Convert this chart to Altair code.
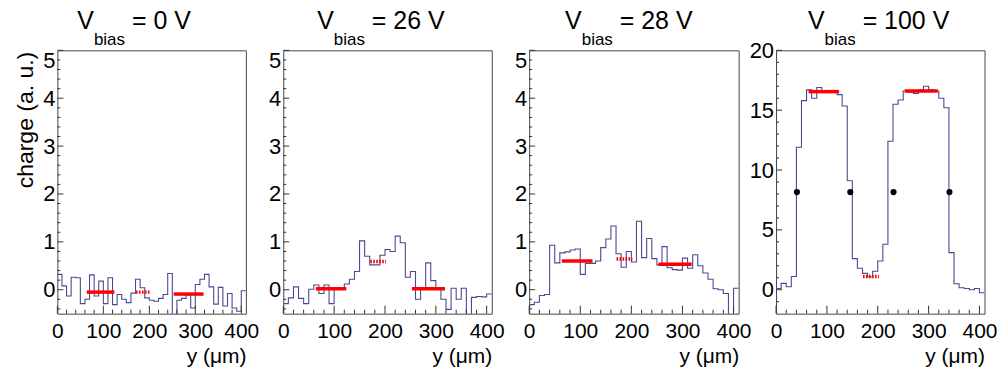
import altair as alt
import pandas as pd

# ---------------- data ----------------
EDGES = list(range(0, 420, 10))  # 41 bins of 10 um, 0..410

charge_0V = [0.32, 0.08, -0.13, 0.26, 0.25, -0.29, -0.20, 0.31, -0.13, 0.18,
             -0.29, 0.25, -0.31, -0.10, -0.20, -0.27, -0.07, 0.22, 0.04, -0.17,
             -0.22, -0.24, -0.18, -0.10, 0.34, -0.60, -0.22, -0.18, -0.11, -0.38,
             0.11, 0.22, 0.32, 0.06, -0.30, 0.05, -0.34, -0.08, -0.38, -0.45,
             -0.02]
charge_26V = [-0.29, -0.17, 0.06, -0.18, -0.29, 0.01, 0.10, -0.08, 0.10, -0.29,
              0.03, 0.03, 0.12, 0.22, 0.38, 1.02, 0.70, 0.52, 0.52, 0.72,
              0.84, 0.80, 1.12, 0.98, 0.26, 0.38, -0.20, 0.03, 0.56, 0.19,
              0.03, -0.20, -0.41, 0.03, -0.20, 0.03, -0.65, -0.16, -0.14, -0.15,
              -0.09]
charge_28V = [-0.31, -0.26, -0.12, -0.10, 0.93, 0.56, 0.77, 0.79, 0.83, 0.85,
              0.32, 0.55, 0.55, 0.60, 0.88, 1.06, 1.33, 0.75, 0.47, 0.80,
              0.58, 1.43, 0.67, 1.07, 0.65, 0.52, 0.90, 0.46, 0.42, 0.41,
              0.66, 0.45, 0.73, 0.50, 0.35, 0.22, 0.02, 0.00, -0.08, -0.70,
              0.03]
charge_100V = [0.10, 0.53, 0.25, 1.10, 11.9, 15.8, 16.7, 16.0, 16.9, 16.5,
               16.6, 16.6, 16.3, 15.35, 9.1, 2.6, 1.8, 1.37, 1.06, 1.55,
               2.4, 3.8, 12.4, 15.5, 15.85, 16.6, 16.5, 16.4, 16.7, 17.0,
               16.7, 16.6, 16.0, 15.2, 3.1, 0.5, 0.17, 0.10, 0.00, 0.10,
               -0.25]

VOLTAGES = ["0", "26", "28", "100"]
SERIES = [charge_0V, charge_26V, charge_28V, charge_100V]

SEG_SOLID1 = [64, 124]
SEG_DOTTED = [171, 202]
SEG_SOLID2 = [253, 318]
mean_solid1 = [-0.05, 0.02, 0.60, 16.55]
mean_dotted = [-0.05, 0.59, 0.64, 1.11]
mean_solid2 = [-0.09, 0.02, 0.53, 16.60]

edge_x_100V = [41, 146, 231, 341]
edge_y_100V = [8.16, 8.16, 8.16, 8.16]

X_MAJOR = [0, 100, 200, 300, 400]
X_MINOR = [v for v in range(20, 410, 20) if v % 100 != 0]
Y_DOMAINS = [[-0.5, 5], [-0.5, 5], [-0.5, 5], [-2, 20]]
Y_MAJOR = [[0, 1, 2, 3, 4, 5]] * 3 + [[0, 5, 10, 15, 20]]
Y_MINOR = [[i / 5 for i in range(-2, 25) if i % 5 != 0]] * 3 + \
          [[i for i in range(-1, 20) if i % 5 != 0]]

# ---------------- styling ----------------
FONT = "Liberation Sans"
LINE = "#4a4a94"
TICK = "#333333"
RED = "#ff0000"
H = 264
WIDTHS = [189, 209, 210, 209]
TITLE_X = [20, 34, 36, 32]


def panel(i):
    w = WIDTHS[i]
    vals = SERIES[i]
    xs = alt.Scale(domain=[0, 410], nice=False, zero=False)
    ys = alt.Scale(domain=Y_DOMAINS[i], nice=False, zero=False)

    x_axis = alt.Axis(values=X_MAJOR, format="d", ticks=False, tickSize=0,
                      domain=False, grid=False, labelFontSize=21,
                      labelPadding=7, labelFlush=False, labelColor="black",
                      labelFont=FONT, title="y (μm)", titleFontSize=21,
                      titleFontWeight="normal", titleColor="black",
                      titleFont=FONT, titleX=w, titleY=48.5, titleAlign="right",
                      titleBaseline="alphabetic", titleAnchor="end")
    ykw = dict(values=Y_MAJOR[i], ticks=False, tickSize=0, domain=False,
               grid=False, labelFontSize=22, labelPadding=2.5,
               labelColor="black", labelFont=FONT, labelFlush=(i < 3))
    if i == 0:
        ykw.update(title="charge (a. u.)", titleFontSize=23,
                   titleFontWeight="normal", titleColor="black",
                   titleFont=FONT, titleAngle=270, titleX=-32, titleY=1,
                   titleAlign="right", titleBaseline="middle")
    else:
        ykw.update(title=None)

    hist_df = pd.DataFrame({"pos": EDGES, "charge": vals + [vals[-1]]})
    hist = alt.Chart(hist_df).mark_line(
        interpolate="step-after", color=LINE, strokeWidth=1.1, clip=True
    ).encode(x=alt.X("pos:Q", scale=xs, axis=x_axis),
             y=alt.Y("charge:Q", scale=ys, axis=alt.Axis(**ykw)))

    xt_maj = alt.Chart(pd.DataFrame({"pos": X_MAJOR})).mark_rule(
        color=TICK, strokeWidth=1).encode(
        x="pos:Q", y=alt.value(H), y2=alt.value(H - 8))
    xt_min = alt.Chart(pd.DataFrame({"pos": X_MINOR})).mark_rule(
        color=TICK, strokeWidth=1).encode(
        x="pos:Q", y=alt.value(H), y2=alt.value(H - 4))
    yt_maj = alt.Chart(pd.DataFrame({"charge": Y_MAJOR[i]})).mark_rule(
        color=TICK, strokeWidth=1).encode(
        y="charge:Q", x=alt.value(0), x2=alt.value(6))
    yt_min = alt.Chart(pd.DataFrame({"charge": Y_MINOR[i]})).mark_rule(
        color=TICK, strokeWidth=1).encode(
        y="charge:Q", x=alt.value(0), x2=alt.value(3))

    red_df = pd.DataFrame({"pos": [SEG_SOLID1[0], SEG_SOLID2[0]],
                           "pos2": [SEG_SOLID1[1], SEG_SOLID2[1]],
                           "charge": [mean_solid1[i], mean_solid2[i]]})
    red = alt.Chart(red_df).mark_rule(color=RED, strokeWidth=3.5).encode(
        x="pos:Q", x2="pos2:Q", y="charge:Q")
    dot_df = pd.DataFrame({"pos": [SEG_DOTTED[0]], "pos2": [SEG_DOTTED[1]],
                           "charge": [mean_dotted[i]]})
    red_dot = alt.Chart(dot_df).mark_rule(
        color=RED, strokeWidth=3.5, strokeDash=[1.6, 1.4]).encode(
        x="pos:Q", x2="pos2:Q", y="charge:Q")

    layers = [hist, xt_maj, xt_min, yt_maj, yt_min, red, red_dot]

    if i == 3:
        pts = alt.Chart(pd.DataFrame({"pos": edge_x_100V, "charge": edge_y_100V})).mark_circle(
            size=38, color="black", opacity=1).encode(x="pos:Q", y="charge:Q")
        layers.append(pts)

    one = pd.DataFrame({"k": [0]})
    x0 = TITLE_X[i]
    wV = 0.667 * 25
    wb = 1.834 * 17
    tV = alt.Chart(one).mark_text(text="V", fontSize=25, font=FONT, align="left",
                                  baseline="alphabetic", color="black").encode(
        x=alt.value(x0), y=alt.value(-21))
    tb = alt.Chart(one).mark_text(text="bias", fontSize=17, font=FONT, align="left",
                                  baseline="alphabetic", color="black").encode(
        x=alt.value(x0 + wV), y=alt.value(-5))
    tr = alt.Chart(one).mark_text(text=f"= {VOLTAGES[i]} V", fontSize=25, font=FONT,
                                  align="left", baseline="alphabetic",
                                  color="black").encode(
        x=alt.value(x0 + wV + wb + 0.278 * 25), y=alt.value(-21))
    layers += [tV, tb, tr]

    return alt.layer(*layers).properties(width=w, height=H)


chart = alt.hconcat(*[panel(i) for i in range(4)], spacing=37.5, bounds="flush").properties(
    padding={"left": 13.5, "top": 8, "right": 2, "bottom": 0},
    background="white",
).configure_view(stroke="#444444", strokeWidth=1).configure_axis(
    labelFont=FONT, titleFont=FONT)

chart.save("out.html", embed_options={"renderer": "svg", "actions": False})
